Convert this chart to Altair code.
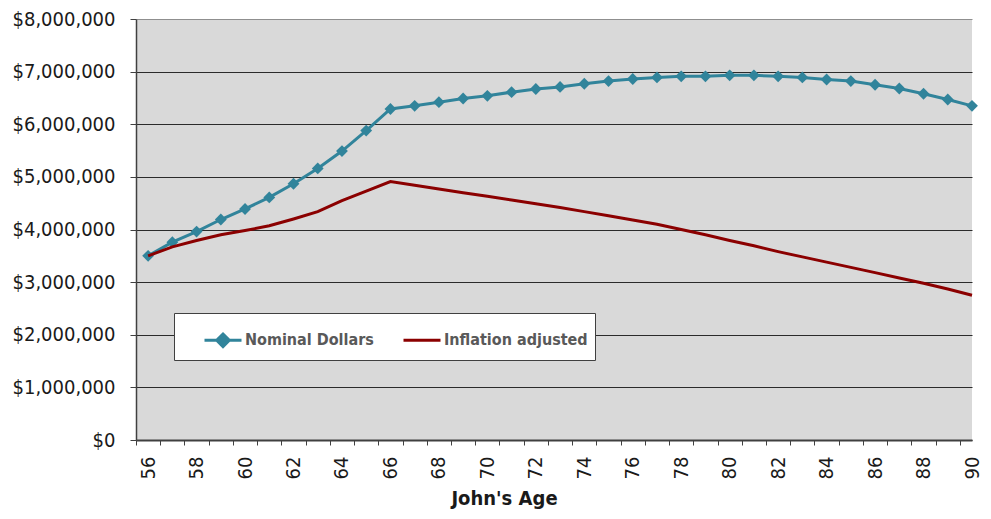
import altair as alt
import pandas as pd

# ---- data ----
ages = [56, 57, 58, 59, 60, 61, 62, 63, 64, 65, 66, 67, 68, 69, 70, 71, 72, 73,
        74, 75, 76, 77, 78, 79, 80, 81, 82, 83, 84, 85, 86, 87, 88, 89, 90]

nominal = [3500000, 3760000, 3960000, 4190000, 4390000, 4610000, 4870000, 5160000,
           5490000, 5880000, 6290000, 6350000, 6420000, 6490000, 6540000, 6610000,
           6670000, 6710000, 6770000, 6820000, 6860000, 6890000, 6910000, 6910000,
           6930000, 6930000, 6910000, 6890000, 6850000, 6820000, 6750000, 6680000,
           6580000, 6470000, 6350000]

inflation = [3500000, 3670000, 3790000, 3900000, 3980000, 4070000, 4200000, 4340000,
             4550000, 4730000, 4910000, 4840000, 4770000, 4700000, 4630000, 4560000,
             4490000, 4420000, 4340000, 4260000, 4180000, 4100000, 4000000, 3900000,
             3790000, 3690000, 3580000, 3480000, 3380000, 3280000, 3180000, 3080000,
             2980000, 2870000, 2750000]

series_names = ["Nominal Dollars", "Inflation adjusted"]
y_ticks = [0, 1000000, 2000000, 3000000, 4000000, 5000000, 6000000, 7000000, 8000000]
x_label_ages = [56, 58, 60, 62, 64, 66, 68, 70, 72, 74, 76, 78, 80, 82, 84, 86, 88, 90]
x_tick_bounds = [55.5, 56.5, 57.5, 58.5, 59.5, 60.5, 61.5, 62.5, 63.5, 64.5, 65.5,
                 66.5, 67.5, 68.5, 69.5, 70.5, 71.5, 72.5, 73.5, 74.5, 75.5, 76.5,
                 77.5, 78.5, 79.5, 80.5, 81.5, 82.5, 83.5, 84.5, 85.5, 86.5, 87.5,
                 88.5, 89.5]

df = pd.DataFrame({
    "age": ages + ages,
    "value": nominal + inflation,
    "series": [series_names[0]] * len(ages) + [series_names[1]] * len(ages),
})

# ---- styling ----
FONT = "DejaVu Sans Condensed, DejaVu Sans, sans-serif"
TEAL = "#31849b"
RED = "#8b0000"
AXIS_GRAY = "#404040"
x_dom = [55.5, 90.0]

color_scale = alt.Scale(domain=series_names, range=[TEAL, RED])

diamond_path = "M-1,0H1M0,-0.34L0.34,0L0,0.34L-0.34,0Z"
stroke_path = "M0,-0.34M0,0.34M-1,0H1"
legend = alt.Legend(
    title=None, orient="none", legendX=38, legendY=294, direction="horizontal",
    fillColor="white", strokeColor=AXIS_GRAY, padding=7,
    symbolSize=1369, symbolStrokeWidth=3, symbolOffset=22, labelOffset=2,
    columnPadding=6, labelFont=FONT, labelFontSize=16, labelFontWeight="bold",
    labelColor="#595959", labelLimit=0,
    symbolType={"expr": "datum.value === 'Nominal Dollars' ? '" + diamond_path + "' : '" + stroke_path + "'"},
    symbolFillColor={"expr": "datum.value === 'Nominal Dollars' ? '" + TEAL + "' : 'transparent'"},
)

y_enc = alt.Y(
    "value:Q",
    scale=alt.Scale(domain=[0, 8000000], nice=False),
    axis=alt.Axis(
        values=y_ticks, format="$,.0f", title=None, grid=True,
        gridColor=alt.condition("datum.value == 8000000", alt.value("#8f8f8f"), alt.value("#2b2b2b")),
        gridWidth=1, tickSize=6, tickColor=AXIS_GRAY, domainColor=AXIS_GRAY,
        domainWidth=1.5, labelFont=FONT, labelFontSize=20, labelColor="#1a1a1a",
        labelPadding=15, labelBaseline="middle",
    ),
)

base = alt.Chart(df)

line_nom = base.transform_filter(alt.datum.series == series_names[0]).mark_line(
    strokeWidth=3
).encode(
    x=alt.X("age:Q", scale=alt.Scale(domain=x_dom, nice=False, zero=False),
            axis=alt.Axis(values=x_label_ages, labelAngle=270, ticks=False,
                          labelPadding=16, domainColor=AXIS_GRAY, domainWidth=2,
                          grid=False, title="John's Age", titleFont=FONT,
                          titleFontSize=20, titleFontWeight="bold", titleColor="#1a1a1a",
                          titleX=368, titleY=64, titleAlign="center",
                          titleBaseline="alphabetic", labelFont=FONT,
                          labelFontSize=20, labelColor="#1a1a1a", labelFlush=False,
                          labelOverlap=False, orient="bottom")),
    y=y_enc,
    color=alt.Color("series:N", scale=color_scale, legend=legend),
)

points = base.transform_filter(alt.datum.series == series_names[0]).mark_point(
    shape="diamond", filled=True, size=140, color=TEAL, opacity=1
).encode(
    x=alt.X("age:Q", scale=alt.Scale(domain=x_dom, nice=False, zero=False),
            axis=alt.Axis(values=x_tick_bounds, labels=False, ticks=True, tickSize=5,
                          tickColor=AXIS_GRAY, tickWidth=1, domain=False, grid=False,
                          title=None, orient="bottom")),
    y=alt.Y("value:Q"),
)

line_inf = base.transform_filter(alt.datum.series == series_names[1]).mark_line(
    strokeWidth=3
).encode(
    x=alt.X("age:Q", scale=alt.Scale(domain=x_dom, nice=False, zero=False), axis=None),
    y=alt.Y("value:Q"),
    color=alt.Color("series:N", scale=color_scale, legend=legend),
)

chart = alt.layer(line_nom, points, line_inf).resolve_scale(
    x="independent"
).properties(
    width=836, height=421,
    padding={"left": 128, "top": 11, "right": 11, "bottom": 70},
    autosize=alt.AutoSizeParams(type="none"),
    background="white",
).configure_view(fill="#d9d9d9", stroke=None)

chart.save("out.html", embed_options={"renderer": "svg", "actions": False})
